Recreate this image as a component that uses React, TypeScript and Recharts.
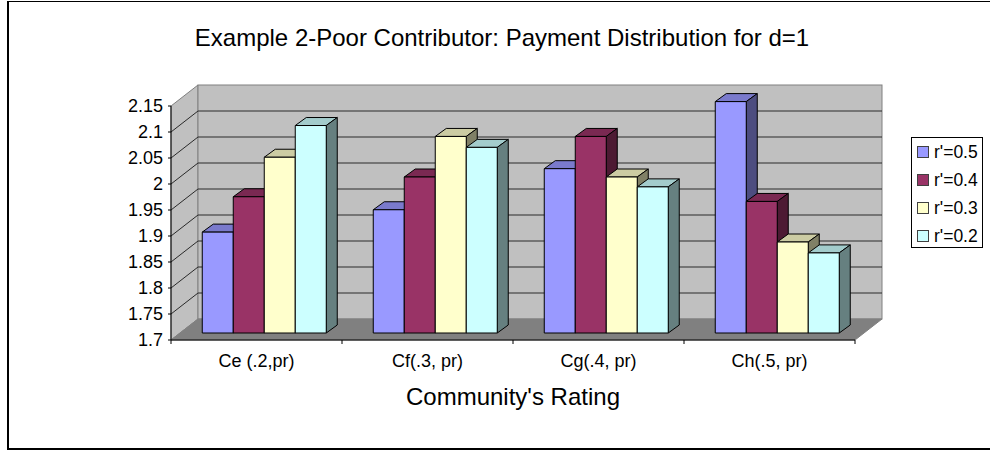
import { BarChart, Bar, XAxis, YAxis, CartesianGrid, Legend } from 'recharts';

const categories = ['Ce (.2,pr)', 'Cf(.3, pr)', 'Cg(.4, pr)', 'Ch(.5, pr)'];
const r05 = [1.894, 1.937, 2.016, 2.145];
const r04 = [1.962, 2.0, 2.078, 1.953];
const r03 = [2.038, 2.078, 2.0, 1.875];
const r02 = [2.099, 2.057, 1.981, 1.854];
const yTicks = [1.7, 1.75, 1.8, 1.85, 1.9, 1.95, 2, 2.05, 2.1, 2.15];
const gridTicks = [1.75, 1.8, 1.85, 1.9, 1.95, 2, 2.05, 2.1];

const tableData = categories.map((name, i) => ({
  name,
  r05: r05[i],
  r04: r04[i],
  r03: r03[i],
  r02: r02[i],
}));

const seriesList = [
  { key: 'r05', name: "r'=0.5", color: '#9999ff', top: '#7a7acc', side: '#4d4d80' },
  { key: 'r04', name: "r'=0.4", color: '#993366', top: '#7a2952', side: '#4d1a33' },
  { key: 'r03', name: "r'=0.3", color: '#ffffcc', top: '#cccca3', side: '#808066' },
  { key: 'r02', name: "r'=0.2", color: '#ccffff', top: '#a3cccc', side: '#668080' },
];

const FONT = '"Liberation Sans", Arial, sans-serif';
const PLOT = { left: 171, right: 855, top: 106, bottom: 340 };
// offset from the front plane to the back wall
const WALL_DX = 27;
const WALL_DY = 21;
// bars stand part way into the floor and have their own depth
const BAR_DX = 8;
const BAR_DY = 7;
const BAR_DEPTH_X = 11;
const BAR_DEPTH_Y = 8;
const BAND = (PLOT.right - PLOT.left) / categories.length;

// side wall, back wall and floor sit in their own svg under the chart
function Walls() {
  const { left, right, top, bottom } = PLOT;
  const backL = left + WALL_DX;
  const backR = right + WALL_DX;
  const backT = top - WALL_DY;
  const backB = bottom - WALL_DY;
  return (
    <svg width={990} height={451} style={{ position: 'absolute', left: 0, top: 0 }}>
      <polygon
        points={`${left},${top} ${backL},${backT} ${backL},${backB} ${left},${bottom}`}
        fill="#c0c0c0"
        stroke="#808080"
      />
      <rect x={backL} y={backT} width={right - left} height={bottom - top} fill="#c0c0c0" stroke="#808080" />
      <polygon
        points={`${left},${bottom} ${right},${bottom} ${backR},${backB} ${backL},${backB}`}
        fill="#808080"
        stroke="#808080"
      />
    </svg>
  );
}

// gridline wraps from the front edge along the side wall and across the back wall
function GridLine(props: any) {
  const { x1, x2, y1 } = props;
  const backY = y1 - WALL_DY;
  return (
    <polyline
      points={`${x1},${y1} ${x1 + WALL_DX},${backY} ${x2 + WALL_DX},${backY}`}
      fill="none"
      stroke="#2a2a2a"
      strokeWidth={1}
    />
  );
}

function makeBox(top: string, side: string) {
  return function Box(props: any) {
    const { x, y, width, height, fill } = props;
    const fx = x + BAR_DX;
    const fy = y - BAR_DY;
    const r = fx + width;
    const b = fy + height;
    return (
      <g stroke="#000000" strokeWidth={1} strokeLinejoin="round">
        <polygon
          points={`${fx},${fy} ${r},${fy} ${r + BAR_DEPTH_X},${fy - BAR_DEPTH_Y} ${fx + BAR_DEPTH_X},${fy - BAR_DEPTH_Y}`}
          fill={top}
        />
        <polygon
          points={`${r},${fy} ${r + BAR_DEPTH_X},${fy - BAR_DEPTH_Y} ${r + BAR_DEPTH_X},${b - BAR_DEPTH_Y} ${r},${b}`}
          fill={side}
        />
        <rect x={fx} y={fy} width={width} height={height} fill={fill} />
      </g>
    );
  };
}

function CategoryTick(props: any) {
  const { x, y, payload, index } = props;
  const last = index === categories.length - 1;
  return (
    <g>
      <line x1={x - BAND / 2} x2={x - BAND / 2} y1={y} y2={y + 4} stroke="#000000" />
      {last && <line x1={x + BAND / 2} x2={x + BAND / 2} y1={y} y2={y + 4} stroke="#000000" />}
      <text x={x} y={y + 27} textAnchor="middle" fontSize={18} fontFamily={FONT} fill="#000000">
        {payload.value}
      </text>
    </g>
  );
}

function LegendBox() {
  return (
    <div
      style={{
        width: 72,
        height: 111,
        marginLeft: 56,
        boxSizing: 'border-box',
        border: '1px solid #000000',
        paddingTop: 0,
        fontFamily: FONT,
        fontSize: 17.5,
        background: '#ffffff',
      }}
    >
      {seriesList.map((s) => (
        <div key={s.key} style={{ display: 'flex', alignItems: 'center', height: 28, paddingLeft: 5 }}>
          <span
            style={{
              width: 10,
              height: 10,
              border: '1px solid #404040',
              background: s.color,
              marginRight: 5,
              flexShrink: 0,
            }}
          />
          <span>{s.name}</span>
        </div>
      ))}
    </div>
  );
}

export default function App() {
  return (
    <div style={{ position: 'absolute', left: 0, top: 0, width: 990, height: 451, overflow: 'hidden', background: '#ffffff' }}>
      <div
        style={{
          position: 'absolute',
          left: 7,
          top: 1,
          width: 1000,
          height: 446,
          borderLeft: '2px solid #000000',
          borderTop: '1px solid #000000',
          borderBottom: '2px solid #000000',
        }}
      />
      <Walls />
      <BarChart
        width={990}
        height={451}
        data={tableData}
        margin={{ top: PLOT.top, right: 0, bottom: 51, left: 0 }}
        barCategoryGap="13.6%"
        barGap={0}
        style={{ position: 'absolute', left: 0, top: 0 }}
      >
        <CartesianGrid
          vertical={false}
          horizontalValues={gridTicks}
          horizontal={(props: any) => <GridLine key={props.key ?? props.y1} {...props} />}
        />
        <XAxis
          dataKey="name"
          height={60}
          interval={0}
          tickLine={false}
          tickSize={0}
          tickMargin={0}
          axisLine={{ stroke: '#000000' }}
          tick={<CategoryTick />}
          label={{
            value: "Community's Rating",
            position: 'insideBottom',
            offset: -5,
            fontSize: 24,
            fontFamily: FONT,
            fill: '#000000',
          }}
        />
        <YAxis
          width={171}
          domain={[1.7, 2.15]}
          ticks={yTicks}
          interval={0}
          tickSize={3}
          tickMargin={5}
          axisLine={{ stroke: '#000000' }}
          tickLine={{ stroke: '#000000' }}
          tick={{ fontSize: 18, fontFamily: FONT, fill: '#000000' }}
        />
        {seriesList.map((s) => (
          <Bar
            key={s.key}
            dataKey={s.key}
            name={s.name}
            fill={s.color}
            isAnimationActive={false}
            shape={makeBox(s.top, s.side)}
          />
        ))}
        <Legend
          content={<LegendBox />}
          layout="vertical"
          align="right"
          verticalAlign="top"
          width={135}
          wrapperStyle={{ position: 'absolute', left: 855, top: 137, width: 135 }}
        />
        <text x={502} y={46} textAnchor="middle" fontSize={24} fontFamily={FONT} fill="#000000">
          Example 2-Poor Contributor: Payment Distribution for d=1
        </text>
      </BarChart>
    </div>
  );
}
